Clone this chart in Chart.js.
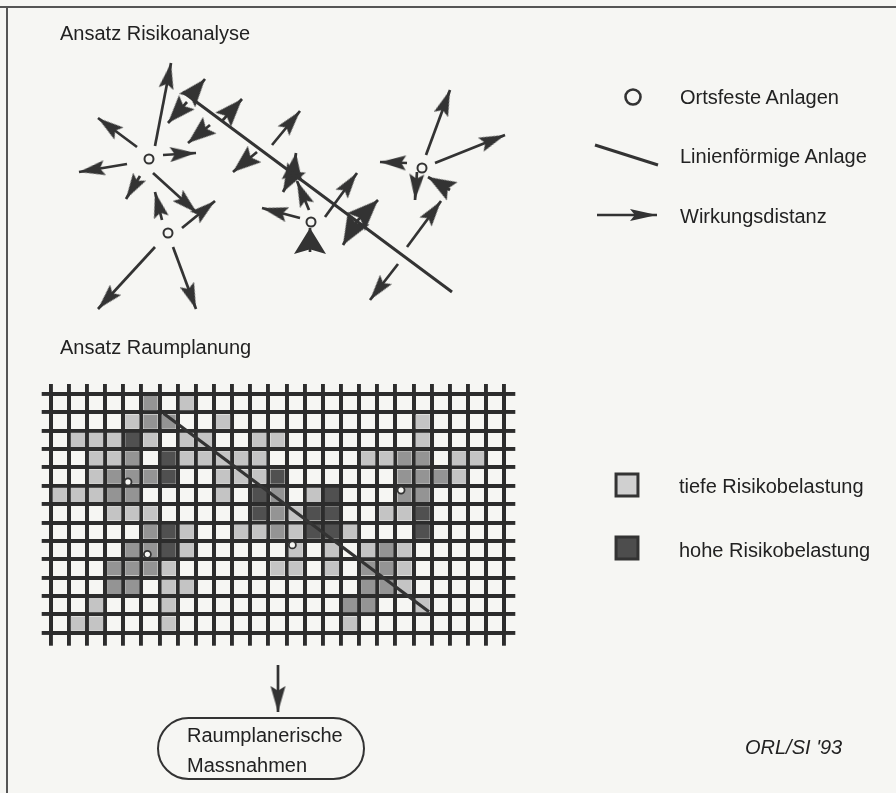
<!DOCTYPE html>
<html lang="de">
<head>
<meta charset="utf-8">
<title>Ansatz Risikoanalyse / Ansatz Raumplanung</title>
<script src="https://cdn.jsdelivr.net/npm/chart.js@4.4.1/dist/chart.umd.min.js"></script>
<style>
  html, body { margin: 0; padding: 0; background: #f6f6f3; }
  #page { position: relative; width: 896px; height: 793px; overflow: hidden; background: #f6f6f3;
          font-family: "Liberation Sans", Arial, sans-serif; color: #222; }
  #page canvas { position: absolute; }
  #main { left: 0; top: 0; }
  #grid { left: 40px; top: 382px; }
  .lbl { position: absolute; font-size: 20px; line-height: 20px; white-space: nowrap; }
  .frame { position: absolute; background: #555; }
  #box { position: absolute; left: 157px; top: 717px; width: 208px; height: 63px; box-sizing: border-box;
         border: 2.5px solid #333; border-radius: 32px; }
</style>
</head>
<body>
<div id="page">
  <div class="frame" style="left:0; top:6px; width:896px; height:2px"></div>
  <div class="frame" style="left:6px; top:6px; width:2px; height:787px"></div>
  <canvas id="main" width="896" height="793"></canvas>
  <canvas id="grid" width="478" height="268"></canvas>
  <div id="box"></div>
  <div class="lbl" style="left:60px; top:23px">Ansatz Risikoanalyse</div>
  <div class="lbl" style="left:60px; top:337px">Ansatz Raumplanung</div>
  <div class="lbl" style="left:680px; top:87px">Ortsfeste Anlagen</div>
  <div class="lbl" style="left:680px; top:146px">Linienförmige Anlage</div>
  <div class="lbl" style="left:680px; top:206px">Wirkungsdistanz</div>
  <div class="lbl" style="left:679px; top:476px">tiefe Risikobelastung</div>
  <div class="lbl" style="left:679px; top:540px">hohe Risikobelastung</div>
  <div class="lbl" style="left:187px; top:725px">Raumplanerische</div>
  <div class="lbl" style="left:187px; top:755px">Massnahmen</div>
  <div class="lbl" style="left:745px; top:737px; font-style:italic">ORL/SI '93</div>
</div>
<script>
const ink = '#333333';
const gridInk = '#2c2c2c';

// Raster: 25 columns x 13 rows, cells given as [row, column]
const gridCols = 25;
const gridRows = 13;
const lowRiskCells = [
  [0, 7], [1, 4], [1, 9], [1, 20],
  [2, 1], [2, 2], [2, 3], [2, 5], [2, 7], [2, 8], [2, 11], [2, 12], [2, 20],
  [3, 2], [3, 3], [3, 7], [3, 8], [3, 9], [3, 10], [3, 11], [3, 17], [3, 18], [3, 22], [3, 23],
  [4, 2], [4, 9], [4, 10], [4, 11], [4, 22],
  [5, 0], [5, 1], [5, 2], [5, 9], [5, 14],
  [6, 3], [6, 4], [6, 5], [6, 13], [6, 18], [6, 19],
  [7, 7], [7, 10], [7, 11], [7, 13], [7, 16],
  [8, 7], [8, 13], [8, 15], [8, 17], [8, 19],
  [9, 6], [9, 12], [9, 13], [9, 15], [9, 19],
  [10, 6], [10, 7], [10, 19],
  [11, 2], [11, 6], [11, 20],
  [12, 1], [12, 2], [12, 6], [12, 16]
];
const midRiskCells = [
  [0, 5], [1, 5], [1, 6], [3, 4], [3, 19], [3, 20],
  [4, 3], [4, 4], [4, 5], [4, 19], [4, 20], [4, 21],
  [5, 3], [5, 4], [5, 12], [5, 19], [5, 20], [6, 12], [7, 5], [7, 12],
  [8, 4], [8, 5], [8, 18], [9, 3], [9, 4], [9, 5], [9, 17], [9, 18],
  [10, 3], [10, 4], [10, 17], [10, 18], [11, 16], [11, 17]
];
const highRiskCells = [
  [2, 4], [3, 6], [4, 6], [4, 12], [5, 11], [5, 15], [6, 11], [6, 14], [6, 15],
  [6, 20], [7, 6], [7, 14], [7, 15], [7, 20], [8, 6]
];
// sites and route inside the raster, in column / row units
const gridSites = [[4.26, 4.79], [5.33, 8.73], [13.32, 8.22], [19.31, 5.23]];
const gridRoute = [[6.21, 1.05], [20.85, 11.86]];

// risk analysis sketch (page units)
const sites = [[149, 159], [168, 233], [311, 222], [422, 168]];
const route = [[183, 92], [452, 292]];
// [fromX, fromY, tipX, tipY, head]
const effectArrows = [
  [155, 146, 171, 63, 'n'], [137, 147, 98, 118, 'n'], [127, 164, 79, 172, 'n'],
  [163, 155, 196, 153, 'n'], [153, 173, 197, 213, 'n'], [140, 176, 126, 199, 'n'],
  [162, 220, 155, 192, 'n'], [182, 228, 215, 201, 'n'], [155, 247, 98, 309, 'n'],
  [173, 247, 196, 309, 'n'],
  [190, 97, 205, 79, 'b'], [187, 102, 168, 123, 'b'], [210, 125, 188, 143, 'b'],
  [222, 121, 242, 99, 'b'], [257, 152, 233, 172, 'b'],
  [272, 145, 300, 111, 'n'], [293, 174, 296, 153, 'b'], [293, 174, 283, 192, 'b'],
  [309, 210, 297, 181, 'n'], [300, 218, 262, 208, 'n'], [310, 252, 310, 228, 'w'],
  [325, 217, 357, 173, 'n'], [357, 221, 378, 200, 'l'], [357, 221, 343, 245, 'l'],
  [407, 247, 441, 201, 'n'], [398, 264, 370, 300, 'n'],
  [426, 155, 450, 90, 'n'], [435, 163, 505, 135, 'n'], [407, 163, 380, 162, 'n'],
  [417, 172, 415, 200, 'n'], [450, 190, 428, 177, 'b']
];
const outcomeArrow = [278, 665, 278, 712, 'n'];

// legend symbols
const legendSite = [633, 97];
const legendRoute = [[595, 145], [658, 165]];
const legendArrow = [597, 215, 657, 215, 'g'];
const legendSwatches = [[627, 485], [627, 548]];

const cellColors = { low: '#c4c4c4', mid: '#949494', high: '#505050' };

function makeHead(len, half) {
  const c = document.createElement('canvas');
  c.width = 2 * len + 4;
  c.height = 2 * half + 4;
  const g = c.getContext('2d');
  const cx = c.width / 2, cy = c.height / 2;
  g.fillStyle = ink;
  g.beginPath();
  g.moveTo(cx, cy);
  g.lineTo(cx - len, cy - half);
  g.lineTo(cx - len * 0.82, cy);
  g.lineTo(cx - len, cy + half);
  g.closePath();
  g.fill();
  return c;
}
const heads = {
  n: makeHead(26, 7.5), b: makeHead(28, 10.5), l: makeHead(31, 12.5), w: makeHead(26, 16), g: makeHead(27, 6)
};

function arrowDataset(a) {
  const [x0, y0, x1, y1, kind] = a;
  return {
    showLine: true,
    data: [{ x: x0, y: y0 }, { x: x1, y: y1 }],
    borderColor: ink,
    borderWidth: 2.7,
    pointRadius: [0, 3],
    pointStyle: [false, heads[kind]],
    pointRotation: Math.atan2(y1 - y0, x1 - x0) * 180 / Math.PI
  };
}
const toPoints = list => list.map(p => ({ x: p[0], y: p[1] }));

new Chart(document.getElementById('main'), {
  type: 'scatter',
  data: {
    datasets: [
      { data: toPoints(sites), pointStyle: 'circle', pointRadius: 4.5, pointBorderWidth: 2,
        pointBorderColor: ink, pointBackgroundColor: '#f6f6f3' },
      { data: toPoints([legendSite]), pointStyle: 'circle', pointRadius: 7.5, pointBorderWidth: 2.6,
        pointBorderColor: ink, pointBackgroundColor: '#f6f6f3' },
      { data: toPoints(legendSwatches), pointStyle: 'rect', pointRadius: 15.5, pointBorderWidth: 3,
        pointBorderColor: ink, pointBackgroundColor: ['#d0d0d0', '#4d4d4d'] },
      { data: toPoints(route), showLine: true, borderColor: ink, borderWidth: 3, pointRadius: 0 },
      { data: toPoints(legendRoute), showLine: true, borderColor: ink, borderWidth: 3, pointRadius: 0 },
      ...effectArrows.map(arrowDataset),
      arrowDataset(legendArrow),
      arrowDataset(outcomeArrow)
    ]
  },
  options: {
    responsive: false,
    animation: false,
    events: [],
    layout: { padding: 0, autoPadding: false },
    plugins: { legend: { display: false }, tooltip: { enabled: false } },
    scales: {
      x: { type: 'linear', min: 0, max: 896, display: false },
      y: { type: 'linear', min: 0, max: 793, reverse: true, display: false }
    }
  }
});

const gridLineWidth = 3.9;
function cellRadius(ctx) {
  const sx = ctx.chart.scales.x, sy = ctx.chart.scales.y;
  const w = Math.abs(sx.getPixelForValue(1) - sx.getPixelForValue(0));
  const h = Math.abs(sy.getPixelForValue(1) - sy.getPixelForValue(0));
  return (Math.min(w, h) - gridLineWidth) / Math.SQRT2;
}
function cellDataset(cells, color) {
  return {
    data: cells.map(([r, c]) => ({ x: c + 0.5, y: r + 0.5 })),
    pointStyle: 'rect',
    pointRadius: cellRadius,
    pointBorderWidth: 0,
    pointBackgroundColor: color
  };
}
function rasterAxis(position, tickLength, max, reverse) {
  return {
    type: 'linear', position, min: 0, max, reverse: !!reverse,
    ticks: { display: false, stepSize: 1 },
    grid: { color: gridInk, lineWidth: gridLineWidth, drawTicks: true, tickLength,
            tickColor: gridInk, tickWidth: gridLineWidth },
    border: { display: true, color: gridInk, width: gridLineWidth }
  };
}

new Chart(document.getElementById('grid'), {
  type: 'scatter',
  data: {
    datasets: [
      { data: toPoints(gridSites), pointStyle: 'circle', pointRadius: 3.5, pointBorderWidth: 1.8,
        pointBorderColor: ink, pointBackgroundColor: '#f6f6f3' },
      { data: toPoints(gridRoute), showLine: true, borderColor: ink, borderWidth: 3.2, pointRadius: 0 },
      cellDataset(highRiskCells, cellColors.high),
      cellDataset(midRiskCells, cellColors.mid),
      cellDataset(lowRiskCells, cellColors.low)
    ]
  },
  options: {
    responsive: false,
    animation: false,
    events: [],
    layout: { padding: { left: 1.7, right: 2.7, top: 2, bottom: 4.3 }, autoPadding: false },
    plugins: { legend: { display: false }, tooltip: { enabled: false } },
    scales: {
      x: rasterAxis('bottom', 13, gridCols),
      x2: rasterAxis('top', 10, gridCols),
      y: rasterAxis('left', 9, gridRows, true),
      y2: rasterAxis('right', 11, gridRows, true)
    }
  }
});
</script>
</body>
</html>
